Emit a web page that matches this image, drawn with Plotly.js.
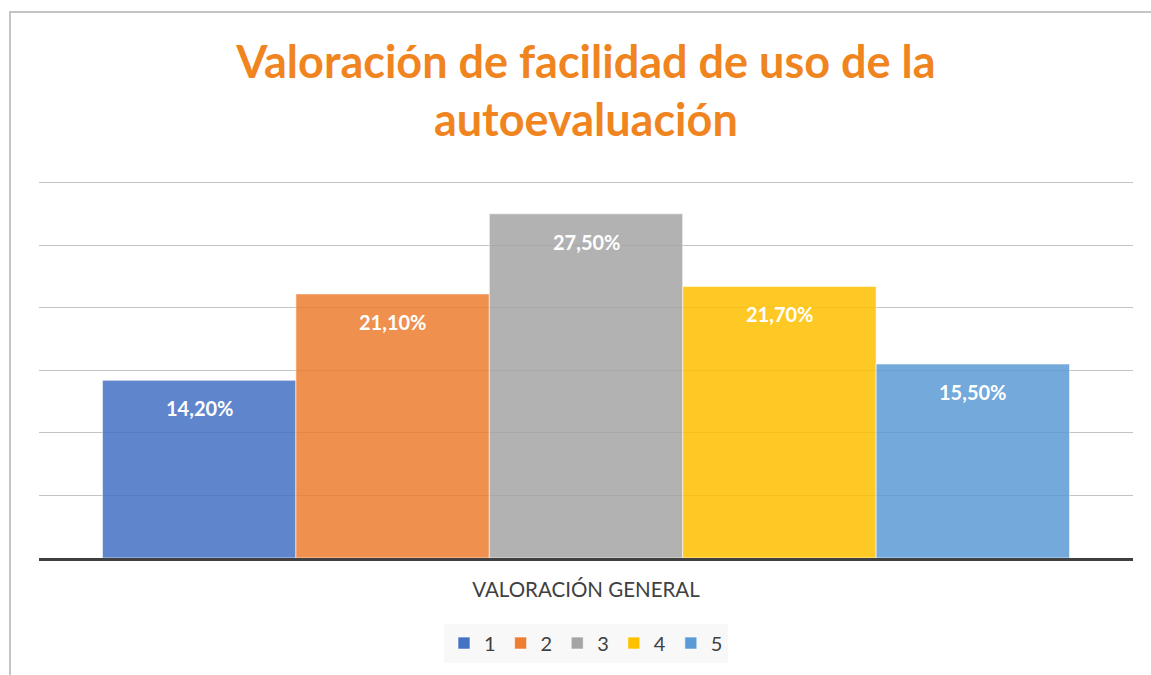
<!DOCTYPE html>
<html>
<head>
<meta charset="utf-8">
<script src="https://cdn.plot.ly/plotly-3.0.1.min.js"></script>
<style>
html,body{margin:0;padding:0;background:#fff;}
#chart{width:1151px;height:675px;}
</style>
</head>
<body>
<div id="chart"></div>
<script>
const categoryLabel = 'VALORACIÓN GENERAL';
const seriesNames = ['1', '2', '3', '4', '5'];
const seriesValues = [0.142, 0.211, 0.275, 0.217, 0.155];
const seriesColors = ['#4472C4', '#ED7D31', '#A5A5A5', '#FFC000', '#5B9BD5'];
const titleText = 'Valoración de facilidad de uso de la<br>autoevaluación';

const FONT = 'Lato, "Open Sans", sans-serif';

function fmtPct(v) {
  return (v * 100).toFixed(2).replace('.', ',') + '%';
}

const traces = seriesNames.map((name, i) => ({
  type: 'bar',
  name: name,
  x: [name],
  y: [seriesValues[i]],
  marker: {color: seriesColors[i], opacity: 0.85, line: {color: 'rgba(255,255,255,0.6)', width: 1}},
  hoverinfo: 'skip'
}));

// data labels: anchored on each bar's category index and value
const annotations = seriesNames.map((name, i) => ({
  xref: 'x', yref: 'y',
  x: i, y: seriesValues[i],
  text: fmtPct(seriesValues[i]),
  showarrow: false,
  yanchor: 'middle',
  yshift: -28,
  font: {family: FONT, size: 20, color: '#ffffff', weight: 'bold'}
}));

const layout = {
  width: 1151,
  height: 675,
  margin: {l: 39, r: 18, t: 180, b: 115},
  paper_bgcolor: '#ffffff',
  plot_bgcolor: '#ffffff',
  barmode: 'overlay',
  bargap: 0,
  showlegend: true,
  title: {
    text: titleText,
    font: {family: FONT, size: 45, color: '#F0841E', weight: 'bold'},
    x: 0.509,
    xanchor: 'center',
    yref: 'container',
    y: 0.885,
    yanchor: 'middle'
  },
  xaxis: {
    type: 'category',
    categoryorder: 'array',
    categoryarray: seriesNames,
    range: [-0.828, 4.828],
    showline: true,
    linecolor: '#404040',
    linewidth: 3,
    ticks: '',
    showticklabels: false,
    showgrid: false,
    title: {text: categoryLabel, font: {family: FONT, size: 20.5, color: '#404040'}, standoff: 23}
  },
  yaxis: {
    range: [0, 0.302],
    dtick: 0.05,
    showticklabels: false,
    showgrid: true,
    gridcolor: '#c4c4c4',
    gridwidth: 1,
    zeroline: false,
    showline: false,
    ticks: ''
  },
  legend: {
    orientation: 'h',
    x: 0.5,
    xanchor: 'center',
    y: -0.225,
    yanchor: 'middle',
    bgcolor: '#f8f8f8',
    font: {family: FONT, size: 20, color: '#404040'},
    itemwidth: 30,
    traceorder: 'normal'
  },
  annotations: annotations,
  shapes: [{
    type: 'rect', xref: 'paper', yref: 'paper',
    x0: -0.0265, x1: 1.2, y0: -0.5, y1: 1.4447,
    line: {color: '#c4c4c4', width: 2},
    fillcolor: 'rgba(0,0,0,0)',
    layer: 'below'
  }]
};

Plotly.newPlot('chart', traces, layout, {displayModeBar: false, staticPlot: true});
</script>
</body>
</html>
